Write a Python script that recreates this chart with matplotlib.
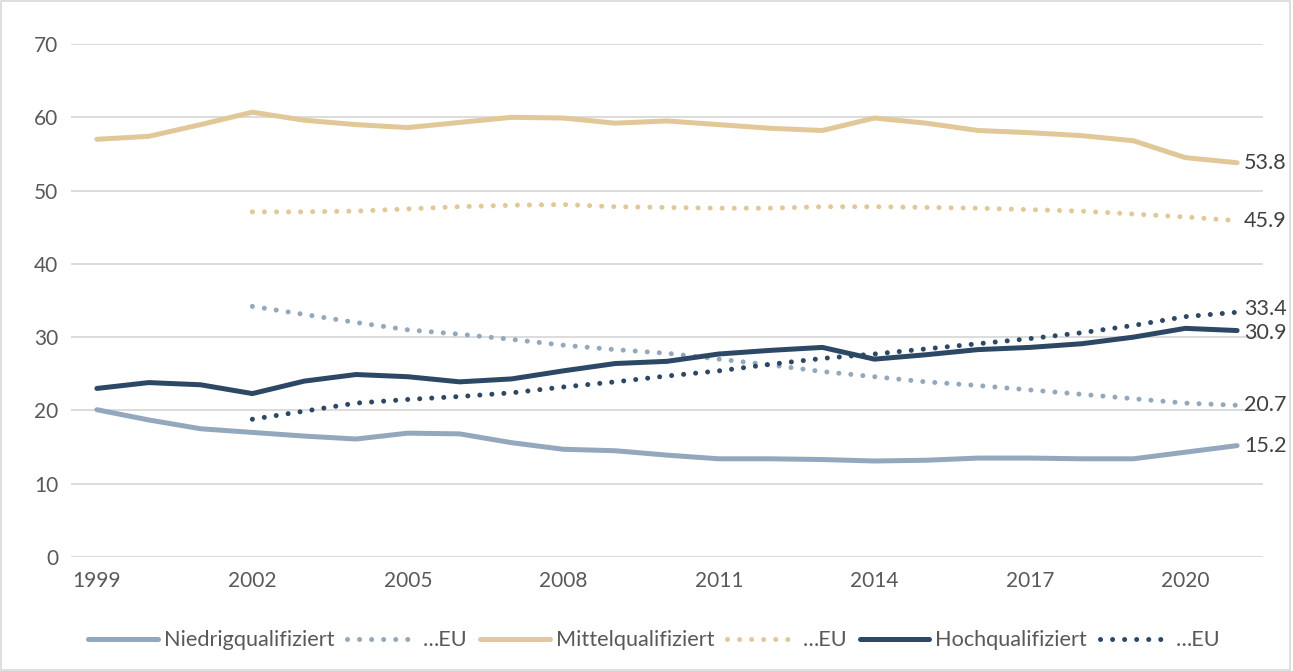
import matplotlib.pyplot as plt
from matplotlib.patches import Rectangle

years = list(range(1999, 2022))
eu_years = list(range(2002, 2022))

niedrig = [20.1, 18.7, 17.5, 17.0, 16.5, 16.1, 16.9, 16.8, 15.6, 14.7, 14.5, 13.9,
           13.4, 13.4, 13.3, 13.1, 13.2, 13.5, 13.5, 13.4, 13.4, 14.3, 15.2]
niedrig_eu = [34.2, 33.1, 32.0, 31.0, 30.4, 29.7, 28.9, 28.3, 27.8, 27.0, 26.2,
              25.3, 24.6, 23.9, 23.4, 22.8, 22.2, 21.6, 21.0, 20.7]
mittel = [57.0, 57.4, 59.0, 60.7, 59.6, 59.0, 58.6, 59.3, 60.0, 59.9, 59.2, 59.5,
          59.0, 58.5, 58.2, 59.9, 59.2, 58.2, 57.9, 57.5, 56.8, 54.5, 53.8]
mittel_eu = [47.1, 47.1, 47.2, 47.5, 47.8, 48.0, 48.1, 47.8, 47.7, 47.6, 47.6,
             47.8, 47.8, 47.7, 47.6, 47.4, 47.2, 46.8, 46.4, 45.9]
hoch = [23.0, 23.8, 23.5, 22.3, 24.0, 24.9, 24.6, 23.9, 24.3, 25.4, 26.4, 26.7,
        27.7, 28.2, 28.6, 27.0, 27.6, 28.3, 28.6, 29.1, 30.0, 31.2, 30.9]
hoch_eu = [18.8, 19.9, 21.0, 21.5, 21.9, 22.4, 23.2, 23.9, 24.7, 25.4, 26.3,
           27.1, 27.7, 28.4, 29.1, 29.8, 30.6, 31.6, 32.8, 33.4]

labels = ["Niedrigqualifiziert", "…EU", "Mittelqualifiziert", "…EU",
          "Hochqualifiziert", "…EU"]
c_low, c_mid, c_high = "#93A8BC", "#E2C799", "#2D4865"
text_col = "#595959"

plt.rcParams['font.family'] = ['Lato', 'DejaVu Sans']

fig = plt.figure(figsize=(12.93, 6.71), dpi=100)
ax = fig.add_axes([0.0549, 0.1699, 0.9219, 0.7645])
fig.patches.append(Rectangle((0.001, 0.001), 0.997, 0.997, transform=fig.transFigure,
                             fill=False, edgecolor="#D9D9D9", linewidth=1.2))

lw = 3.6
dot = (0, (0.01, 2.4))
series = [
    (years, niedrig, c_low, "-"),
    (eu_years, niedrig_eu, c_low, dot),
    (years, mittel, c_mid, "-"),
    (eu_years, mittel_eu, c_mid, dot),
    (years, hoch, c_high, "-"),
    (eu_years, hoch_eu, c_high, dot),
]
# small vertical nudges (points) so the two close end labels don't collide
nudge = [0, 0, 0, 0, -2, 2]
for (x, y, col, ls), lab, dy in zip(series, labels, nudge):
    ax.plot(x, y, color=col, linestyle=ls, linewidth=lw, label=lab,
            solid_capstyle="round", dash_capstyle="round")
    ax.annotate(f"{y[-1]:.1f}", (x[-1], y[-1]), xytext=(5, dy),
                textcoords="offset points", va="center", ha="left",
                fontsize=15.5, color="#404040")

ax.set_xlim(1998.5, 2021.5)
ax.set_ylim(0, 70)
ax.set_yticks(range(0, 71, 10))
ax.set_xticks(range(1999, 2022, 3))
ax.grid(axis="y", color="#D9D9D9", linewidth=1.3)
ax.set_axisbelow(True)
for s in ax.spines.values():
    s.set_visible(False)
ax.tick_params(length=0, labelsize=15, labelcolor=text_col)
ax.tick_params(axis="y", pad=9)
ax.tick_params(axis="x", pad=10)

fig.legend(loc="center", bbox_to_anchor=(0.506, 0.046), ncol=6, frameon=False,
           fontsize=15.6, labelcolor=text_col, handlelength=3.2, columnspacing=0.6,
           handletextpad=0.28)

fig.savefig("out.png", dpi=100)
